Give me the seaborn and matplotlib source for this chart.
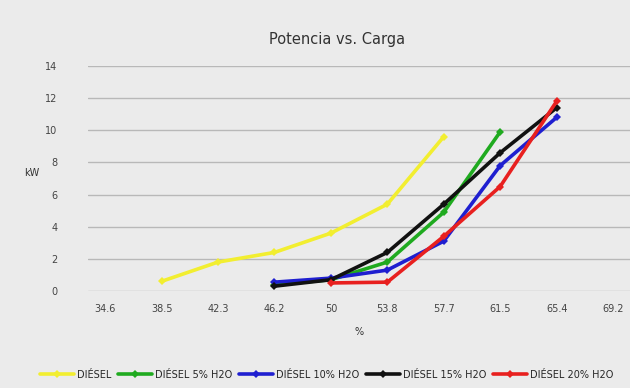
import pandas as pd
import seaborn as sns
import numpy as np
import matplotlib.pyplot as plt

sns.set_style("white")
plt.rcParams['font.family'] = ['DejaVu Sans']

#%%
carga = ["34.6", "38.5", "42.3", "46.2", "50", "53.8", "57.7", "61.5", "65.4", "69.2"]

diesel = [None, 0.6, 1.8, 2.4, 3.6, 5.4, 9.6, None, None, None]
diesel_5 = [None, None, None, 0.4, 0.7, 1.8, 4.9, 9.9, None, None]
diesel_10 = [None, None, None, 0.55, 0.8, 1.3, 3.1, 7.8, 10.8, None]
diesel_15 = [None, None, None, 0.3, 0.7, 2.4, 5.4, 8.6, 11.4, None]
diesel_20 = [None, None, None, None, 0.5, 0.55, 3.4, 6.5, 11.8, None]

series = {
    "DIÉSEL": diesel,
    "DIÉSEL 5% H2O": diesel_5,
    "DIÉSEL 10% H2O": diesel_10,
    "DIÉSEL 15% H2O": diesel_15,
    "DIÉSEL 20% H2O": diesel_20,
}
colores = ["#f2ee30", "#1faa1f", "#1f1fd0", "#111111", "#e8201f"]

#%%
df = pd.DataFrame(series, index=carga).astype("float64")
df["pos"] = np.arange(len(carga))
df_long = df.melt(id_vars="pos", var_name="serie", value_name="kW").dropna()

fig, ax = plt.subplots(figsize=(6.3, 3.88), dpi=100)
bg = "#ebebeb"
fig.patch.set_facecolor(bg)
ax.set_facecolor(bg)

sns.lineplot(data=df_long, x="pos", y="kW", hue="serie", palette=colores,
             hue_order=list(series.keys()), marker="D", markersize=4,
             markeredgewidth=0, linewidth=2.6, ax=ax)

ax.set_xticks(np.arange(len(carga)))
ax.set_xticklabels(carga, fontsize=7, color="#444444")
ax.set_xlim(-0.3, len(carga) - 0.7)
ax.set_ylim(0, 14)
ax.set_yticks(np.arange(0, 15, 2))
ax.tick_params(axis="y", labelsize=7, colors="#444444", length=0, pad=22)
ax.tick_params(axis="x", length=0, pad=9)
ax.yaxis.grid(True, color="#b8b8b8", linewidth=1)
for s in ax.spines.values():
    s.set_visible(False)

ax.set_xlabel("%", fontsize=7, color="#333333", labelpad=10)
ax.set_ylabel("kW", fontsize=7, color="#333333", rotation=0, labelpad=2)
ax.yaxis.set_label_coords(-0.105, 0.5)
ax.set_title("Potencia vs. Carga", fontsize=10.5, color="#333333", pad=16, x=0.46)

ax.legend(loc="upper center", bbox_to_anchor=(0.44, -0.31), ncol=5, frameon=False,
          fontsize=7, handlelength=3.5, columnspacing=0.7, handletextpad=0.3)

plt.subplots_adjust(left=0.14, right=1.0, top=0.83, bottom=0.25)
plt.savefig("out.png", dpi=100, facecolor=bg)
